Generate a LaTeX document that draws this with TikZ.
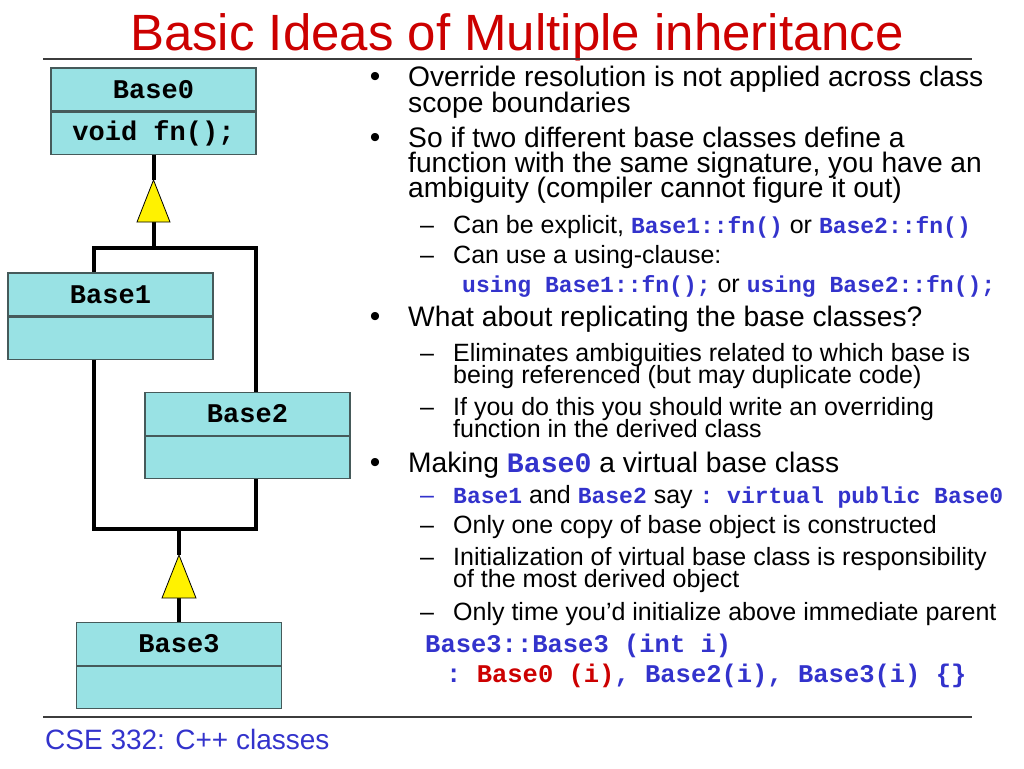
\documentclass[tikz,border=0pt]{standalone}
\usepackage{fontspec}
\setmainfont{Liberation Sans}
\setmonofont{Liberation Mono}
\usepackage{xcolor}
\usepackage{tikz}
\usetikzlibrary{positioning}
\definecolor{titlered}{RGB}{204, 0, 0}
\definecolor{codeblue}{RGB}{51, 51, 204}
\definecolor{boxcyan}{RGB}{153, 226, 228}
\definecolor{boxline}{RGB}{70, 90, 90}
\definecolor{rulegray}{RGB}{60, 60, 60}
\newcommand{\fs}[2][0]{\fontsize{#2}{#1}\selectfont\lineskiplimit=-100pt\lineskip=0pt}
\newcommand{\code}[1]{\textcolor{codeblue}{\ttfamily\bfseries #1}}
\newcommand{\redcode}[1]{\textcolor{titlered}{\ttfamily\bfseries #1}}

\begin{document}
\begin{tikzpicture}[x=1pt, y=-1pt,
    classhead/.style={draw=boxline, line width=1.2pt, fill=boxcyan, minimum width=205pt, minimum height=43pt, inner sep=0pt, font=\fs{27}\ttfamily\bfseries},
    classbody/.style={classhead, minimum height=42pt},
    link/.style={line width=4pt, line join=miter},
    tri/.style={draw=black, line width=0.8pt, fill=yellow},
    bul/.style={anchor=base, font=\fs{30}},
    main/.style={anchor=base west, inner sep=0pt, align=left, font={\fs[25.5]{28.2}}},
    sub/.style={anchor=base west, inner sep=0pt, align=left, font={\fs[22.5]{25}}},
    dashmark/.style={anchor=base west, inner sep=0pt, font=\fs{25}}]
    \useasboundingbox (0,0) rectangle (1024,768);

    % Title and rules
    \node[anchor=base, text=titlered, font=\fs{51}] (title) at (517,50) {Basic Ideas of Multiple inheritance};
    \draw[rulegray, line width=1.5pt] (43,59) -- (972,59);
    \draw[rulegray, line width=1.5pt] (43,717) -- (972,717);
    \node[anchor=base west, inner sep=0pt, text=codeblue, font=\fs{28}] (footer) at (45,749) {CSE 332: C++ classes};

    % Class boxes
    \node[classhead] (base0) at (153.5,89.5) {Base0};
    \node[classbody, below=0pt of base0] (base0body) {void fn();};
    \node[classhead] (base1) at (110.5,294.5) {Base1};
    \node[classbody, below=0pt of base1] (base1body) {};
    \node[classhead] (base2) at (247.5,414) {Base2};
    \node[classbody, below=0pt of base2] (base2body) {};
    \node[classhead] (base3) at (179,644) {Base3};
    \node[classbody, below=0pt of base3] (base3body) {};

    % Inheritance lines
    \coordinate (t1top) at (153.5,180);
    \coordinate (t1bot) at (153.5,222);
    \coordinate (ul) at (94,248);
    \coordinate (ur) at (256,248);
    \coordinate (ll) at (94,529);
    \coordinate (lr) at (256,529);
    \coordinate (t2top) at (179,555);
    \coordinate (t2bot) at (179,598);
    \draw[link] (base0body.south) -- (t1top);
    \draw[link] (t1bot) -- (t1bot |- ul);
    \draw[link] (base1.north -| ul) -- (ul) -- (ur) -- (base2.north -| ur);
    \draw[link] (base1body.south -| ll) -- (ll) -- (lr) -- (base2body.south -| lr);
    \draw[link] (t2top |- ll) -- (t2top);
    \draw[link] (t2bot) -- (base3.north);
    \filldraw[tri] (t1top) -- ++(16.5,42) -- ++(-33,0) -- cycle;
    \filldraw[tri] (t2top) -- ++(17,43) -- ++(-34,0) -- cycle;

    % Bullets
    \node[bul] (b1) at (375,86) {•};
    \node[bul] (b2) at (375,147) {•};
    \node[bul] (b3) at (375,326) {•};
    \node[bul] (b4) at (375,472) {•};

    % First point (base anchor sits on the last line)
    \node[main, font={\fs[26]{28.2}}] (p1) at (408,112) {Override resolution is not applied across class\\scope boundaries};
    \node[main, font={\fs[25]{28.2}}] (p2) at (408,197) {So if two different base classes define a\\function with the same signature, you have an\\ambiguity (compiler cannot figure it out)};
    \node[dashmark] (d1) at (420,233) {–};
    \node[sub] (s1) at (453,233) {Can be explicit, \code{\fs{23}Base1::fn()} or \code{\fs{23}Base2::fn()}};
    \node[dashmark] (d2) at (420,263) {–};
    \node[sub] (s2) at (453,263) {Can use a using-clause:};
    \node[sub] (s3) at (462,292) {\code{\fs{23}using Base1::fn();} or \code{\fs{23}using Base2::fn();}};

    % Replicating
    \node[main] (p3) at (408,326) {What about replicating the base classes?};
    \node[dashmark] (d3) at (420,361) {–};
    \node[sub] (s4) at (453,383.5) {Eliminates ambiguities related to which base is\\being referenced (but may duplicate code)};
    \node[dashmark] (d4) at (420,415) {–};
    \node[sub] (s5) at (453,437.5) {If you do this you should write an overriding\\function in the derived class};

    % Virtual base
    \node[main] (p4) at (408,472) {Making \code{Base0} a virtual base class};
    \node[dashmark, text=codeblue] (d5) at (420,503) {–};
    \node[sub] (s6) at (453,503) {\code{\fs{23}Base1} and \code{\fs{23}Base2} say \code{\fs{23}: virtual public Base0}};
    \node[dashmark] (d6) at (420,533) {–};
    \node[sub] (s7) at (453,533) {Only one copy of base object is constructed};
    \node[dashmark] (d7) at (420,565) {–};
    \node[sub] (s8) at (453,587.5) {Initialization of virtual base class is responsibility\\of the most derived object};
    \node[dashmark] (d8) at (420,620) {–};
    \node[sub] (s9) at (453,620) {Only time you’d initialize above immediate parent};
    \node[sub] (c1) at (425,652) {\code{\fs{25.5}Base3::Base3 (int i)}};
    \node[sub] (c2) at (446,682) {\code{\fs{25.5}: }\redcode{\fs{25.5}Base0 (i)}\code{\fs{25.5}, Base2(i), Base3(i) \{\}}};
\end{tikzpicture}
\end{document}
